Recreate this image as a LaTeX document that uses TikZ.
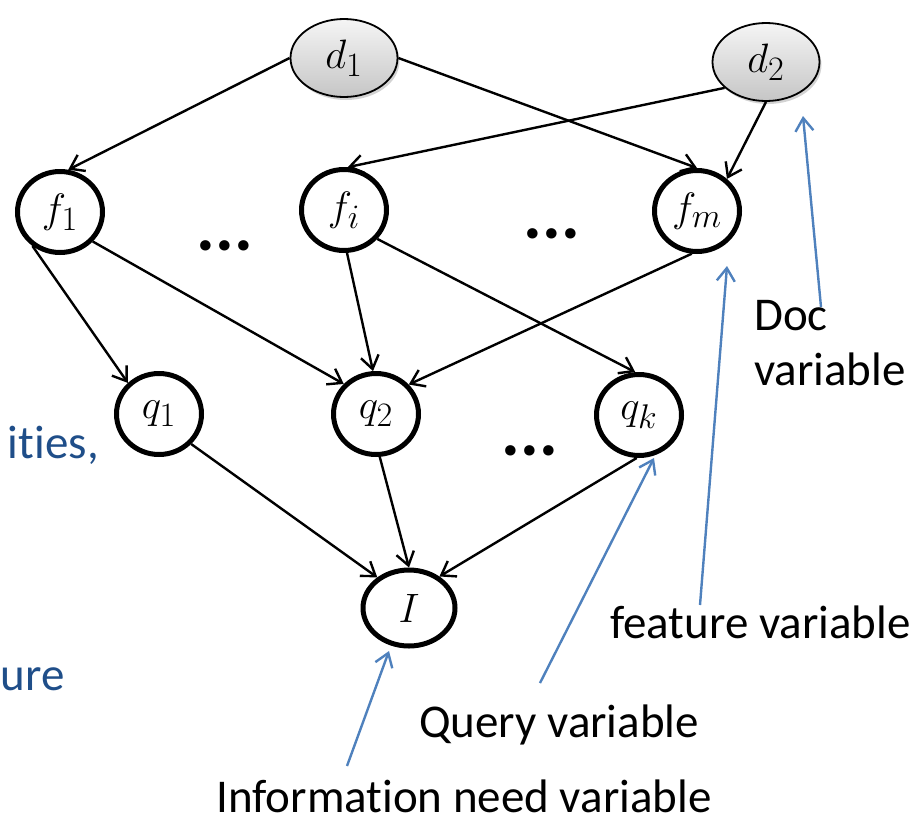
\documentclass[tikz,border=0pt]{standalone}
\usepackage[no-math]{fontspec}
\setmainfont{Carlito}[Ligatures=NoCommon]
\usetikzlibrary{arrows.meta,shapes.geometric,shadows}
\definecolor{annot}{HTML}{4F81BD}
\definecolor{slideblue}{HTML}{1F4E89}
% cm math stops at 24.88pt, so blow the labels up
\newcommand{\vlbl}[1]{\scalebox{1.65}{\fontsize{24.88}{24.88}\selectfont$#1$}}
\tikzset{
	var/.style={ellipse,draw,line width=5pt,fill=white,inner sep=0pt,minimum width=85pt,minimum height=81pt},
	doc/.style={ellipse,draw,line width=1.8pt,top color=gray!8,bottom color=gray!45,drop shadow={opacity=0.35,shadow xshift=2pt,shadow yshift=-3pt},inner sep=0pt,minimum width=107pt,minimum height=78pt},
	arr/.style={-{Straight Barb[length=13pt,width=18pt]},line width=2.4pt},
	note/.style={arr,annot,line width=2.4pt},
	lbl/.style={inner sep=0pt,font=\fontsize{47}{47}\selectfont},
	etc/.style={inner sep=0pt,anchor=base,font=\fontsize{70}{70}\selectfont\bfseries}
}

\begin{document}
\begin{tikzpicture}[x=1pt,y=-1pt]
	\useasboundingbox (0,0) rectangle (923,822);
	\node[doc] (d1) at (344,58) {\vlbl{d_1}};
	\node[doc] (d2) at (766,62) {\vlbl{d_2}};
	\node[var] (f1) at (60,212) {\vlbl{f_1}};
	\node[var] (fi) at (344,210) {\vlbl{f_i}};
	\node[var] (fm) at (697,211) {\vlbl{f_m}};
	\node[var] (q1) at (159,414) {\vlbl{q_1}};
	\node[var] (q2) at (376,414) {\vlbl{q_2}};
	\node[var] (qk) at (639,415) {\vlbl{q_k}};
	\node[var,minimum width=92pt,minimum height=76pt] (I) at (409,608) {\vlbl{I}};
	\node[etc] (e1) at (225,250) {...};
	\node[etc] (e2) at (552,238) {...};
	\node[etc] (e3) at (530,455) {...};
	\path[arr]
	(d1.west) edge (f1.79)
	(d1.east) edge (fm.north)
	(d2.212) edge (fi.85)
	(d2.south) edge (fm.47)
	(f1.231) edge (q1.135)
	(f1.-42) edge (q2.137)
	(fi.-86) edge (q2.94)
	(fi.-41) edge (qk.95)
	(fm.-97) edge (q2.42)
	(q1.-43) edge (I.136)
	(q2.-85) edge (I.north)
	(qk.-93) edge (I.46);
	\node[lbl,anchor=base west] (docA) at (754,330) {Doc};
	\node[lbl,anchor=base west] (docB) at (754,385) {variable};
	\node[lbl,anchor=base west] (feat) at (610,638) {feature variable};
	\node[lbl,anchor=base west] (qry) at (419,737) {Query variable};
	\node[lbl,anchor=base west] (info) at (216,812) {Information need variable};
	\node[lbl,anchor=base east,slideblue] (cutA) at (99,458) {ities,};
	\node[lbl,anchor=base east,slideblue] (cutB) at (65,690) {ure};
	\coordinate (doctail) at (821,307);
	\coordinate (doctip) at (803,116);
	\coordinate (feattail) at (700,605);
	\coordinate (feattip) at (727,266);
	\coordinate (qrytail) at (540,683);
	\coordinate (qrytip) at (654,458);
	\coordinate (infotail) at (347,766);
	\coordinate (infotip) at (389,651);
	\path[note]
	(doctail) edge (doctip)
	(feattail) edge (feattip)
	(qrytail) edge (qrytip)
	(infotail) edge (infotip);
\end{tikzpicture}
\end{document}
